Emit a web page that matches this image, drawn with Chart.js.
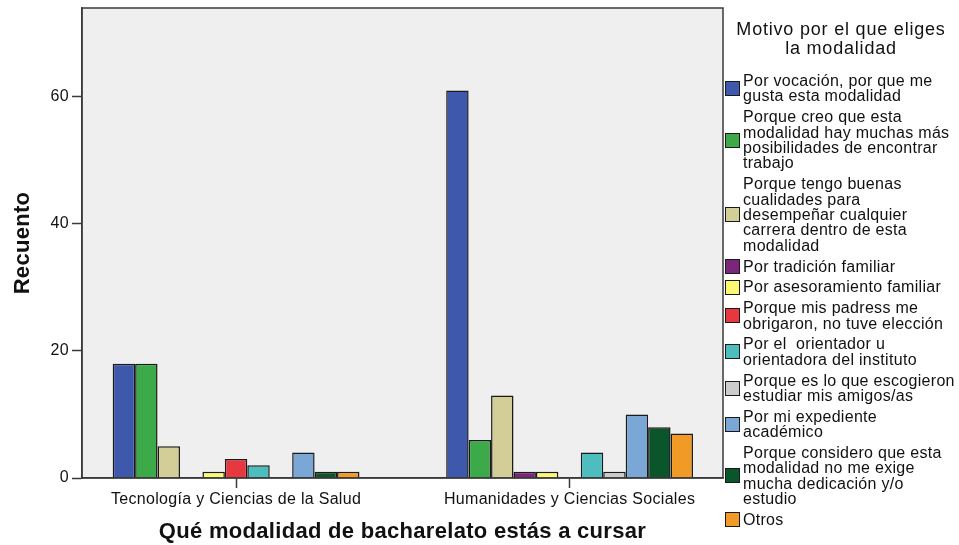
<!DOCTYPE html>
<html lang="es">
<head>
<meta charset="utf-8">
<title>Motivo por el que eliges la modalidad</title>
<script src="https://cdn.jsdelivr.net/npm/chart.js@4.4.1/dist/chart.umd.min.js"></script>
<style>
  html, body { margin: 0; padding: 0; background: #fff; }
  #wrap {
    position: relative; width: 959px; height: 545px;
    font-family: "Liberation Sans", Arial, sans-serif; color: #111;
  }
  #chart-box { position: absolute; left: 0; top: 0; width: 959px; height: 545px; }
  #legend-title {
    position: absolute; left: 723px; top: 19.5px; width: 236px;
    text-align: center; font-size: 18px; line-height: 19px; letter-spacing: 0.8px;
  }
  #modalidad-legend { position: absolute; left: 725px; top: 73px; }
  #modalidad-legend ul { margin: 0; padding: 0; list-style: none; }
  #modalidad-legend li { display: flex; align-items: center; margin-bottom: 5.4px; }
  #modalidad-legend .box {
    width: 15px; height: 15px; box-sizing: border-box;
    border: 1.5px solid #1a1a1a; margin-right: 3px; flex: none;
  }
  #modalidad-legend .txt { font-size: 16px; line-height: 15.4px; letter-spacing: 0.3px; white-space: pre; }
</style>
</head>
<body>
<div id="wrap">
  <div id="chart-box"><canvas id="modalidad-chart"></canvas></div>
  <div id="legend-title">Motivo por el que eliges<br>la modalidad</div>
  <div id="modalidad-legend"><ul></ul></div>
</div>
<script>
// Categories (x axis)
const groups = ['Tecnología y Ciencias de la Salud', 'Humanidades y Ciencias Sociales'];

// Series names, split as the legend wraps them
const motivos = [
  ['Por vocación, por que me', 'gusta esta modalidad'],
  ['Porque creo que esta', 'modalidad hay muchas más', 'posibilidades de encontrar', 'trabajo'],
  ['Porque tengo buenas', 'cualidades para', 'desempeñar cualquier', 'carrera dentro de esta', 'modalidad'],
  ['Por tradición familiar'],
  ['Por asesoramiento familiar'],
  ['Porque mis padress me', 'obrigaron, no tuve elección'],
  ['Por el  orientador u', 'orientadora del instituto'],
  ['Porque es lo que escogieron', 'estudiar mis amigos/as'],
  ['Por mi expediente', 'académico'],
  ['Porque considero que esta', 'modalidad no me exige', 'mucha dedicación y/o', 'estudio'],
  ['Otros'],
];

// Counts per group, one value per motivo (same order as above)
const tecnologia = [18, 18, 5, 0, 1, 3, 2, 0, 4, 1, 1];
const humanidades = [61, 6, 13, 1, 1, 0, 4, 1, 10, 8, 7];

// Y tick labels
const yTicks = [0, 20, 40, 60];

const colores = [
  '#3E58AC', '#3DAA4A', '#D3CE97', '#7B267A', '#FBF873', '#E8383F',
  '#4DBDBF', '#CCCCCC', '#7AA7D6', '#0A552A', '#F29A26',
];

const recuentos = [tecnologia, humanidades];
const fontFamily = '"Liberation Sans", Arial, sans-serif';

// Canvas letter spacing (the reference text is set a bit loose)
const letterSpacing = {
  id: 'letterSpacing',
  beforeUpdate(c) { c.ctx.letterSpacing = '0.3px'; },
  beforeDraw(c) { c.ctx.letterSpacing = '0.3px'; },
};

// Grey plot background and frame
const plotFrame = {
  id: 'plotFrame',
  beforeDraw(c) {
    const { ctx, chartArea: a } = c;
    ctx.save();
    ctx.fillStyle = '#EFEFEF';
    ctx.fillRect(a.left, a.top, a.right - a.left, a.bottom - a.top);
    ctx.restore();
  },
  afterDraw(c) {
    const { ctx, chartArea: a } = c;
    ctx.save();
    ctx.strokeStyle = '#3a3a3a';
    ctx.lineWidth = 1.5;
    ctx.strokeRect(a.left, a.top, a.right - a.left, a.bottom - a.top);
    ctx.restore();
  },
};

// HTML legend with wrapped lines
const htmlLegend = {
  id: 'htmlLegend',
  afterUpdate(c, args, options) {
    const ul = document.getElementById(options.containerID).querySelector('ul');
    if (!ul) return;
    while (ul.firstChild) ul.firstChild.remove();
    const items = c.options.plugins.legend.labels.generateLabels(c);
    items.forEach((item) => {
      const li = document.createElement('li');
      const box = document.createElement('span');
      box.className = 'box';
      box.style.background = item.fillStyle;
      const label = document.createElement('span');
      label.className = 'txt';
      label.textContent = c.data.datasets[item.datasetIndex].legendLines.join('\n');
      li.appendChild(box);
      li.appendChild(label);
      ul.appendChild(li);
    });
  },
};

const ctx = document.getElementById('modalidad-chart');

new Chart(ctx, {
  type: 'bar',
  data: {
    datasets: motivos.map((lines, i) => ({
      label: lines.join(' '),
      legendLines: lines,
      // SPSS leaves empty counts out, but keeps their slot
      data: groups.map((g, j) => ({ x: j, y: recuentos[j][i] || null })),
      backgroundColor: colores[i],
      borderColor: '#1a1a1a',
      borderWidth: 1.5,
      categoryPercentage: 0.74,
      barPercentage: 1,
    })),
  },
  options: {
    responsive: true,
    maintainAspectRatio: false,
    animation: false,
    layout: {
      padding: { top: 8, right: 236, bottom: 0, left: 0 },
    },
    scales: {
      x: {
        type: 'linear',
        min: -0.462,
        max: 1.460,
        offset: false,
        afterBuildTicks: (s) => { s.ticks = groups.map((g, j) => ({ value: j })); },
        afterFit: (s) => { s.height = 67; s.paddingLeft = 0; s.paddingRight = 0; },
        grid: {
          offset: false,
          drawOnChartArea: false,
          tickLength: 10,
          tickColor: '#3a3a3a',
          tickWidth: 1.5,
        },
        border: { display: true, color: '#3a3a3a', width: 1.5 },
        ticks: {
          callback: (v) => groups[v],
          color: '#111',
          font: { family: fontFamily, size: 16 },
          padding: 2,
          maxRotation: 0,
          autoSkip: false,
        },
        title: {
          display: true,
          text: 'Qué modalidad de bacharelato estás a cursar',
          color: '#111',
          font: { family: fontFamily, size: 22, weight: 'bold' },
          padding: { top: 0, bottom: 0 },
        },
      },
      y: {
        min: 0,
        max: 74,
        afterBuildTicks: (s) => { s.ticks = yTicks.map((v) => ({ value: v })); },
        afterFit: (s) => { s.width = 82; s.paddingTop = 0; s.paddingBottom = 0; },
        grid: {
          drawOnChartArea: false,
          tickLength: 10,
          tickColor: '#3a3a3a',
          tickWidth: 1.5,
        },
        border: { display: true, color: '#3a3a3a', width: 1.5 },
        ticks: {
          color: '#111',
          font: { family: fontFamily, size: 16 },
          padding: 3,
        },
        title: {
          display: true,
          text: 'Recuento',
          color: '#111',
          font: { family: fontFamily, size: 22, weight: 'bold' },
          padding: { top: 10, bottom: 0 },
        },
      },
    },
    plugins: {
      legend: { display: false },
      tooltip: { enabled: false },
      htmlLegend: { containerID: 'modalidad-legend' },
    },
  },
  plugins: [letterSpacing, plotFrame, htmlLegend],
});
</script>
</body>
</html>
